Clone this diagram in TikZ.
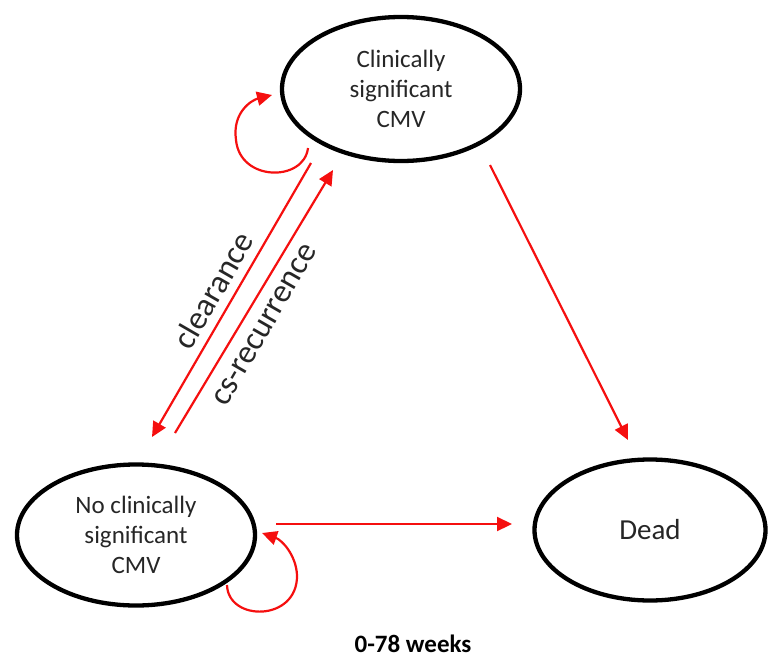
\documentclass[tikz,border=0pt]{standalone}
\usepackage{fontspec}
\setmainfont{Carlito}
\usetikzlibrary{shapes.geometric,arrows.meta,calc}
\definecolor{arrowred}{RGB}{245,15,15}
\definecolor{txtgray}{RGB}{38,38,38}
\begin{document}
\begin{tikzpicture}[x=1pt,y=-1pt,
  state/.style={ellipse,draw=black,line width=4.3pt,inner sep=0pt,align=center,
    text=txtgray,font=\fontsize{25}{30}\selectfont},
  trans/.style={draw=arrowred,line width=2.2pt,-{Triangle[length=15pt,width=14pt]}},
  tlabel/.style={text=txtgray,font=\fontsize{33}{36}\selectfont,rotate=60,inner sep=0pt},
  note/.style={text=black,font=\bfseries\fontsize{25}{30}\selectfont,inner sep=0pt}]
\useasboundingbox (0,0) rectangle (769,659);
\node[state,minimum width=238pt,minimum height=144pt] (cs) at (401,89) {Clinically\\significant\\CMV};
\node[state,minimum width=238pt,minimum height=141pt] (nocs) at (136,535) {No clinically\\significant\\CMV};
\node[state,minimum width=231pt,minimum height=141pt,font=\fontsize{29}{34}\selectfont] (dead) at (650,530) {Dead};
% transitions
\draw[trans] ($(cs)+(89,76)$) -- ($(dead)+(-22,-90)$);
\draw[trans] ($(nocs)+(140,-11)$) -- ($(dead)+(-138,-6)$);
\draw[trans] ($(cs)+(-90,74)$) -- ($(nocs)+(16,-98)$);
\draw[trans] ($(nocs)+(39,-102)$) -- ($(cs)+(-68,81)$);
% self loops
\draw[trans] ($(cs)+(-93,59)$) .. controls (304,182) and (240,182) .. (236,140)
  .. controls (232,112) and (252,100) .. ($(cs)+(-129,6)$);
\draw[trans] ($(nocs)+(91,50)$) .. controls (228,622) and (298,622) .. (297,575)
  .. controls (296,555) and (282,540) .. ($(nocs)+(126,-2)$);
% labels
\node[tlabel] (lclear) at (213,290) {clearance};
\node[tlabel] (lrec) at (265,325) {cs-recurrence};
\node[note] (weeks) at (413,644) {0-78 weeks};
\end{tikzpicture}
\end{document}
